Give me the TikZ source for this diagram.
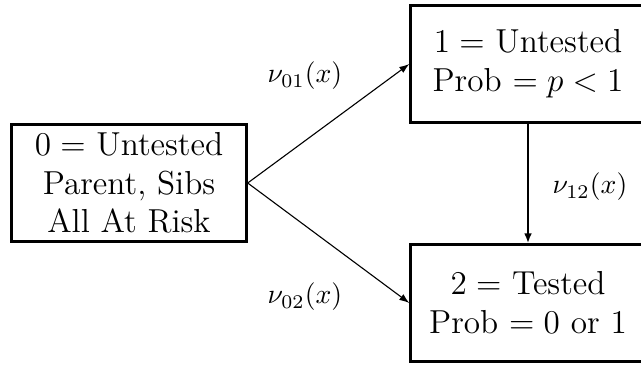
\documentclass[tikz,border=0pt]{standalone}
\usetikzlibrary{arrows.meta}
\begin{document}
\begin{tikzpicture}[x=0.361pt,y=-0.361pt,
  statebox/.style={draw, line width=0.9pt, minimum width=84.8pt, minimum height=42.2pt,
    inner sep=0pt, align=center, font=\large},
  trans/.style={-{Latex[length=3.6pt,width=2.6pt]}, line width=0.4pt},
  thicktrans/.style={-{Latex[length=3.6pt,width=2.8pt]}, line width=0.8pt},
  rate/.style={inner sep=0pt}]
  \useasboundingbox (0,0) rectangle (641,367);
  % states
  \node[statebox] (s0) at (129,183) {$0 =$ Untested\\Parent, Sibs\\All At Risk};
  \node[statebox] (s1) at (528,64) {$1 =$ Untested\\Prob $= p < 1$};
  \node[statebox] (s2) at (528,303) {$2 =$ Tested\\Prob $= 0$ or 1};
  % transitions
  \draw[trans] (s0.east) -- (s1.west);
  \draw[trans] (s0.east) -- (s2.west);
  \draw[thicktrans] (s1.south) -- (s2.north);
  % transition rates
  \node[rate] (r01) at (305,76) {$\nu_{01}(x)$};
  \node[rate] (r02) at (305,297) {$\nu_{02}(x)$};
  \node[rate] (r12) at (590,187) {$\nu_{12}(x)$};
\end{tikzpicture}
\end{document}
